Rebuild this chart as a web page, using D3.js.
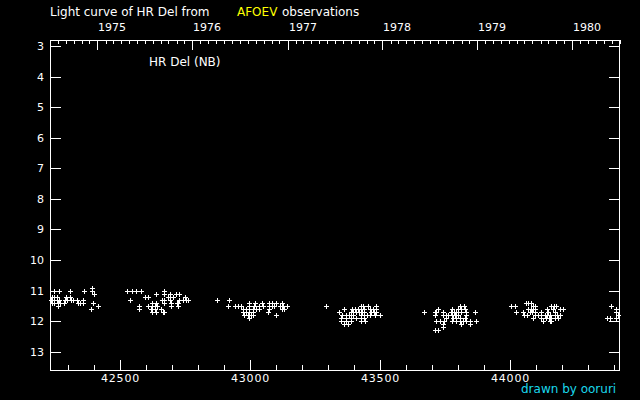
<!DOCTYPE html>
<html>
<head>
<meta charset="utf-8">
<script src="https://cdn.jsdelivr.net/npm/d3@7"></script>
<style>
  html, body { margin: 0; padding: 0; background: #000; }
  svg { display: block; }
  text { font-family: "DejaVu Sans", sans-serif; fill: #fff; }
</style>
</head>
<body>
<svg id="chart" width="640" height="400"></svg>
<script>
// ---- data: [JD - 2400000, visual magnitude] ----
const season1975 = [
  [42392,10.9],
  [42248,11.0],[42267,11.0],[42306,11.0],[42361,11.0],[42392,11.0],
  [42399,11.1],
  [42240,11.2],[42248,11.2],[42258,11.2],[42294,11.2],[42306,11.2],
  [42235,11.3],[42245,11.3],[42256,11.3],[42267,11.3],[42287,11.3],[42298,11.3],[42310,11.3],[42321,11.3],[42333,11.3],[42358,11.3],
  [42237,11.4],[42248,11.4],[42260,11.4],[42271,11.4],[42283,11.4],[42337,11.4],[42346,11.4],[42356,11.4],[42396,11.4],
  [42261,11.5],[42415,11.5],
  [42387,11.6]
];
const season1976 = [
  [42526,11.0],[42548,11.0],[42560,11.0],[42582,11.0],[42670,11.0],
  [42637,11.1],[42670,11.1],[42691,11.1],[42717,11.1],[42729,11.1],
  [42595,11.2],[42606,11.2],[42684,11.2],[42704,11.2],[42751,11.2],
  [42540,11.3],[42662,11.3],[42669,11.3],[42693,11.3],[42729,11.3],[42741,11.3],[42753,11.3],[42760,11.3],
  [42625,11.4],[42637,11.4],[42671,11.4],[42697,11.4],[42718,11.4],[42722,11.4],
  [42573,11.5],[42607,11.5],[42625,11.5],[42633,11.5],[42644,11.5],[42697,11.5],[42722,11.5],
  [42575,11.6],[42620,11.6],[42633,11.6],[42659,11.6],
  [42624,11.7],[42640,11.7],[42665,11.7],[42670,11.7]
];
const season1977 = [
  [42873,11.3],[42919,11.3],
  [42998,11.4],[43021,11.4],[43046,11.4],[43072,11.4],[43085,11.4],[43099,11.4],[43122,11.4],
  [42915,11.5],[42944,11.5],[42955,11.5],[42965,11.5],[42995,11.5],[43017,11.5],[43036,11.5],[43049,11.5],[43072,11.5],[43084,11.5],[43094,11.5],[43114,11.5],[43126,11.5],[43142,11.5],[43293,11.5],
  [42972,11.6],[42983,11.6],[42998,11.6],[43010,11.6],[43024,11.6],[43036,11.6],[43075,11.6],[43122,11.6],[43130,11.6],
  [42972,11.7],[42983,11.7],[42997,11.7],[43010,11.7],[43068,11.7],
  [42978,11.8],[42991,11.8],[43003,11.8],[43010,11.8],[43100,11.8],
  [42998,11.9]
];
const season1978 = [
  [43428,11.5],[43436,11.5],[43454,11.5],[43486,11.5],
  [43363,11.6],[43392,11.6],[43403,11.6],[43415,11.6],[43427,11.6],[43440,11.6],[43461,11.6],[43472,11.6],[43485,11.6],
  [43343,11.7],[43387,11.7],[43397,11.7],[43408,11.7],[43418,11.7],[43430,11.7],[43440,11.7],[43466,11.7],[43476,11.7],[43485,11.7],
  [43355,11.8],[43368,11.8],[43380,11.8],[43397,11.8],[43427,11.8],[43438,11.8],[43449,11.8],[43461,11.8],[43479,11.8],[43500,11.8],
  [43351,11.9],[43368,11.9],[43390,11.9],[43409,11.9],[43428,11.9],[43440,11.9],
  [43351,12.0],[43368,12.0],[43389,12.0],[43426,12.0],[43442,12.0],
  [43363,12.1],[43378,12.1]
];
const season1979 = [
  [43808,11.5],[43823,11.5],
  [43723,11.6],[43778,11.6],[43800,11.6],[43812,11.6],[43826,11.6],
  [43668,11.7],[43710,11.7],[43716,11.7],[43742,11.7],[43774,11.7],[43784,11.7],[43793,11.7],[43812,11.7],[43831,11.7],[43864,11.7],
  [43710,11.8],[43742,11.8],[43753,11.8],[43761,11.8],[43778,11.8],[43788,11.8],[43800,11.8],[43831,11.8],
  [43752,11.9],[43780,11.9],[43794,11.9],[43806,11.9],[43826,11.9],
  [43716,12.0],[43729,12.0],[43748,12.0],[43778,12.0],[43794,12.0],[43806,12.0],[43819,12.0],[43832,12.0],[43845,12.0],[43868,12.0],
  [43742,12.1],[43812,12.1],[43847,12.1],
  [43742,12.2],
  [43710,12.3],[43723,12.3]
];
const season1980 = [
  [44061,11.4],[44071,11.4],[44082,11.4],
  [44005,11.5],[44018,11.5],[44088,11.5],[44095,11.5],[44159,11.5],[44169,11.5],[44178,11.5],
  [44069,11.6],[44079,11.6],[44088,11.6],[44095,11.6],[44143,11.6],[44165,11.6],[44191,11.6],[44204,11.6],
  [44024,11.7],[44050,11.7],[44076,11.7],[44085,11.7],[44095,11.7],[44120,11.7],[44146,11.7],[44172,11.7],
  [44054,11.8],[44066,11.8],[44095,11.8],[44108,11.8],[44120,11.8],[44133,11.8],[44142,11.8],[44153,11.8],[44172,11.8],[44181,11.8],[44191,11.8],
  [44088,11.9],[44120,11.9],[44140,11.9],[44150,11.9],[44159,11.9],[44172,11.9],[44185,11.9],
  [44127,12.0],[44153,12.0],[44159,12.0]
];
const season1981 = [
  [44390,11.5],[44409,11.6],[44409,11.7],[44416,11.8],[44374,11.9],[44384,11.9],[44409,11.9]
];

const magTicks = [3,4,5,6,7,8,9,10,11,12,13];
const jdMajorTicks = [42500, 43000, 43500, 44000];
const yearLabels = [1975, 1976, 1977, 1978, 1979, 1980];
const jdDomain = [42231, 44423];
const magDomain = [2.8, 13.6];

const titleMain = "Light curve of HR Del from";
const titleSource = "AFOEV";
const titleTail = "observations";
const starLabel = "HR Del (NB)";
const credit = "drawn by ooruri";

// ---- drawing ----
const svg = d3.select("#chart");
svg.append("rect").attr("width", 640).attr("height", 400).attr("fill", "#000");

const L = 50, R = 620, T = 40, B = 370;
const x = d3.scaleLinear().domain(jdDomain).range([L, R]);
const y = d3.scaleLinear().domain(magDomain).range([T, B]);
const px = v => Math.round(v) + 0.5;

const g = svg.append("g").attr("shape-rendering", "crispEdges");

// frame
g.append("rect")
  .attr("x", L + 0.5).attr("y", T + 0.5)
  .attr("width", R - L - 1).attr("height", B - T)
  .attr("fill", "none").attr("stroke", "#fff");

// y ticks on both sides (inward)
magTicks.forEach(m => {
  const yy = px(y(m));
  g.append("line").attr("x1", L).attr("x2", L + 11).attr("y1", yy).attr("y2", yy).attr("stroke", "#fff");
  g.append("line").attr("x1", R - 11).attr("x2", R).attr("y1", yy).attr("y2", yy).attr("stroke", "#fff");
  svg.append("text").attr("x", 44).attr("y", Math.round(y(m)) + 4)
    .attr("text-anchor", "end").attr("font-size", 11).text(m);
});

// bottom JD axis: minor every 100, major every 500
const jdMinor = d3.range(Math.ceil(jdDomain[0] / 100) * 100, jdDomain[1], 100);
jdMinor.forEach(j => {
  const major = jdMajorTicks.includes(j);
  const xx = px(x(j));
  g.append("line").attr("x1", xx).attr("x2", xx)
    .attr("y1", B).attr("y2", B - (major ? 10 : 5)).attr("stroke", "#fff");
});
jdMajorTicks.forEach(j => {
  svg.append("text").attr("x", Math.round(x(j)) + 0.5).attr("y", 382)
    .attr("text-anchor", "middle").attr("font-size", 11)
    .attr("letter-spacing", 0.8).text(j);
});

// top year axis: months minor, Jan 1 major
const jdOf = d => d.getTime() / 864e5 + 40587.5;
const dateOf = j => new Date((j - 40587.5) * 864e5);
const months = d3.utcMonth.range(d3.utcMonth.ceil(dateOf(jdDomain[0])), dateOf(jdDomain[1]));
months.forEach(d => {
  const major = d.getUTCMonth() === 0;
  const xx = px(x(jdOf(d)));
  g.append("line").attr("x1", xx).attr("x2", xx)
    .attr("y1", T).attr("y2", T + (major ? 10 : 4)).attr("stroke", "#fff");
});
yearLabels.forEach(yr => {
  const xx = x(jdOf(new Date(Date.UTC(yr, 0, 1))));
  svg.append("text").attr("x", Math.round(xx) + 1).attr("y", 31)
    .attr("font-size", 11).text(yr);
});

// points
const allSeasons = [season1975, season1976, season1977, season1978, season1979, season1980, season1981];
const pts = allSeasons.flat();
g.append("g").selectAll("path").data(pts).join("path")
  .attr("d", d => {
    const cx = px(x(d[0])), cy = px(y(d[1]));
    return `M${cx - 2.5},${cy}H${cx + 2.5}M${cx},${cy - 2.5}V${cy + 2.5}`;
  })
  .attr("stroke", "#fff").attr("fill", "none");

// texts
svg.append("text").attr("x", 50).attr("y", 16).attr("font-size", 12).text(titleMain);
svg.append("text").attr("x", 237).attr("y", 16).attr("font-size", 12).style("fill", "#ffff00").text(titleSource);
svg.append("text").attr("x", 282).attr("y", 16).attr("font-size", 12).text(titleTail);
svg.append("text").attr("x", 149).attr("y", 66).attr("font-size", 12).text(starLabel);
svg.append("text").attr("x", 521).attr("y", 393).attr("font-size", 12).style("fill", "#1ad8ec").text(credit);
</script>
</body>
</html>
